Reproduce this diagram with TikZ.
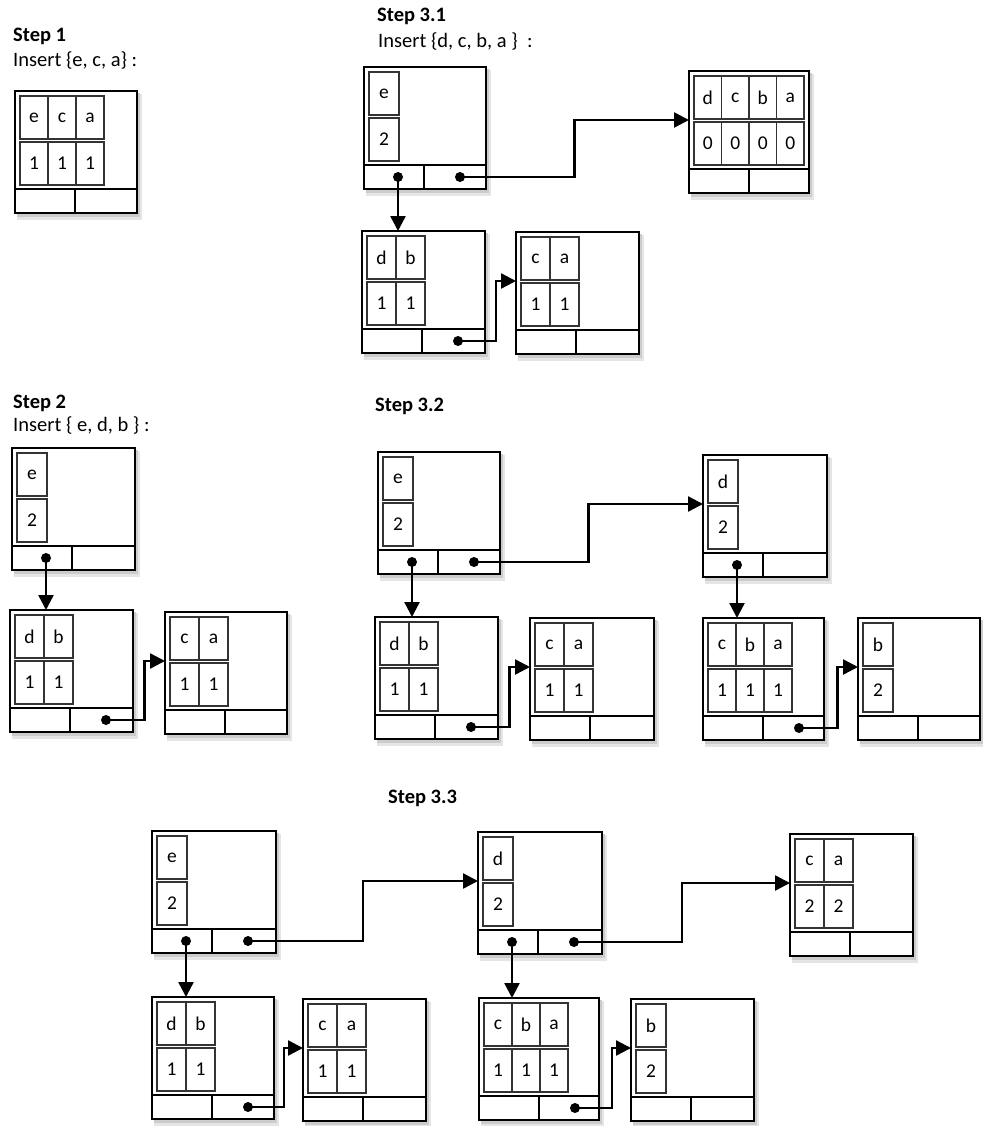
\documentclass[tikz,border=0pt]{standalone}
\usepackage{fontspec}
\setmainfont{Carlito}
\usepackage{tikz}
\usetikzlibrary{arrows.meta,calc,positioning}

\begin{document}
\begin{tikzpicture}[x=1pt, y=-1pt,
	recbox/.style={draw, line width=2.2pt, fill=white, minimum height=98pt, inner sep=0pt, outer sep=0pt},
	botcell/.style={draw, line width=2.2pt, fill=white, minimum height=24pt, inner sep=0pt, outer sep=0pt},
	cell/.style={draw=black!80, line width=1.1pt, minimum height=43pt, inner sep=0pt, outer sep=0pt, font=\fontsize{19.5}{23}\selectfont},
	link/.style={line width=2.4pt, -{Triangle[length=15pt, width=15pt]}},
	steptitle/.style={anchor=base west, inner sep=0pt, font=\fontsize{20.5}{24}\selectfont\bfseries},
	steptext/.style={anchor=base west, inner sep=0pt, font=\fontsize{20.5}{24}\selectfont}]
	\useasboundingbox (0,0) rectangle (982,1126);

	% step labels
	\node[steptitle] (t1) at (13,42) {Step 1};
	\node[steptext] (i1) at (13,67) {Insert \{e, c, a\} :};
	\node[steptitle] (t31) at (377,22) {Step 3.1};
	\node[steptext] (i31) at (378,48) {Insert \{d, c, b, a \}\ \ :};
	\node[steptitle] (t2) at (13,408) {Step 2};
	\node[steptext] (i2) at (13,431) {Insert \{ e, d, b \} :};
	\node[steptitle] (t32) at (375,411) {Step 3.2};
	\node[steptitle] (t33) at (388,803) {Step 3.3};

	% records: name/x/y/width/cell width/keys/counts
	\foreach \nm/\X/\Y/\W/\cw/\keys/\cnts in {
		s1/15/91/122/28/{e,c,a}/{1,1,1},
		a1/364/67/122/30/{e}/{2},
		a2/689/71/120/27.5/{d,c,b,a}/{0,0,0,0},
		a3/362/231/123/29/{d,b}/{1,1},
		a4/516/232/123/29/{c,a}/{1,1},
		b1/12/448/123/30/{e}/{2},
		b2/10/610/123/29/{d,b}/{1,1},
		b3/165/612/122/29/{c,a}/{1,1},
		c1/378/452/122/30/{e}/{2},
		c2/375/617/123/29/{d,b}/{1,1},
		c3/530/618/124/29/{c,a}/{1,1},
		c4/703/455/124/30/{d}/{2},
		c5/703/618/121/28/{c,b,a}/{1,1,1},
		c6/858/618/122/30/{b}/{2},
		d1/152/831/124/30/{e}/{2},
		d2/152/997/122/29/{d,b}/{1,1},
		d3/303/999/123/29/{c,a}/{1,1},
		d4/478/832/124/30/{d}/{2},
		d5/479/998/120/28/{c,b,a}/{1,1,1},
		d6/631/999/123/30/{b}/{2},
		d7/790/834/123/29/{c,a}/{2,2}}
	{
		\fill[black!10] (\X+2,\Y+3) rectangle (\X+\W+5,\Y+129);
		\fill[black!20] (\X+2,\Y+2) rectangle (\X+\W+3,\Y+126);
		\node[recbox, minimum width=\W, anchor=north west] (\nm) at (\X,\Y) {};
		\node[botcell, minimum width=60, anchor=north west] (\nm-L) at (\nm.south west) {};
		\node[botcell, minimum width=\W-60, anchor=north west] (\nm-R) at (\nm-L.north east) {};
		\coordinate (\nm-dl) at ($(\nm-L.west)+(34,0)$);
		\coordinate (\nm-dr) at ($(\nm-L.west)+(96,0)$);
		\foreach \k [count=\i] in \keys
			\node[cell, minimum width=\cw, anchor=north west] (\nm-k\i) at (\X+5+\cw*\i-\cw,\Y+5) {\k};
		\foreach \c [count=\i] in \cnts
			\node[cell, minimum width=\cw, anchor=north west] (\nm-c\i) at (\X+5+\cw*\i-\cw,\Y+51) {\c};
	}

	% child pointers
	\foreach \s/\t in {a1/a3, b1/b2, c1/c2, c4/c5, d1/d2, d4/d5} {
		\draw[link] (\s-dl) -- (\s-dl |- \t.north);
		\fill (\s-dl) circle (5pt);
	}
	% sibling pointers
	\foreach \s/\t/\r in {a1/a2/0.5, a3/a4/0.65, b2/b3/0.65, c1/c4/0.5, c2/c3/0.65,
		c5/c6/0.65, d1/d4/0.5, d2/d3/0.65, d4/d7/0.5, d5/d6/0.66} {
		\draw[link] (\s-dr) -| ($(\s-dr)!\r!(\t.west)$) |- (\t.west);
		\fill (\s-dr) circle (5pt);
	}
\end{tikzpicture}
\end{document}
